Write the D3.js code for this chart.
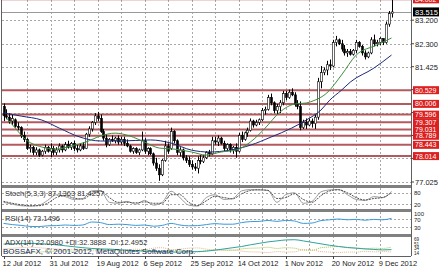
<!DOCTYPE html>
<html>
<head>
<meta charset="utf-8">
<script src="https://cdn.jsdelivr.net/npm/d3@7"></script>
<style>
  body { margin: 0; background: #fff; }
  svg { display: block; }
  text { font-family: "Liberation Sans", Arial, sans-serif; }
</style>
</head>
<body>
<div id="chart"></div>
<script>
// daily candles, 12 Jul 2012 .. 14 Dec 2012 (bar index 0..132)
const openP = [79.9,79.55,79.5,79.35,79.4,79.15,79.1,78.8,78.65,78.3,78.35,78.15,78.25,78.05,78.2,78.35,78.2,78.3,78.15,78.25,
  78.4,78.25,78.45,78.35,78.5,78.3,78.25,78.4,78.3,78.85,79.05,79.3,79.55,79.45,78.95,78.7,78.45,78.65,78.6,78.7,
  78.55,78.65,78.5,78.4,78.2,78.3,78.15,78.25,78.6,78.2,78.3,78.1,77.75,77.55,77.3,77.85,78.4,78.3,78.95,78.6,
  78.15,78.25,77.95,77.85,77.7,77.6,77.55,77.85,77.8,77.95,78.15,78.1,78.6,78.55,78.7,78.5,78.3,78.45,78.25,78.35,
  78.2,78.8,78.65,78.9,79.0,79.35,79.2,79.3,79.4,79.75,79.8,80.25,80.05,79.75,79.9,80.05,80.4,80.25,80.45,80.35,
  80.0,79.9,79.1,79.3,79.2,79.35,79.25,79.5,80.85,81.2,81.3,81.5,81.45,82.35,82.45,82.3,82.1,81.95,82.0,81.9,
  82.05,82.35,82.2,81.95,81.8,81.95,82.45,82.3,82.35,82.5,82.35,83.05,83.45];
const highP = [80.02,79.8,79.65,79.6,79.45,79.3,79.15,78.95,78.7,78.45,78.4,78.35,78.3,78.25,78.45,78.4,78.5,78.4,78.35,78.5,
  78.45,78.55,78.6,78.55,78.6,78.45,78.5,78.55,78.9,79.15,79.35,79.65,79.7,79.6,79.05,78.85,78.7,78.8,78.75,78.8,
  78.75,78.75,78.65,78.45,78.35,78.35,78.3,78.95,78.7,78.35,78.35,78.15,77.95,77.7,77.9,78.6,78.5,79.1,79.0,78.65,
  78.35,78.3,78.05,78.0,77.85,77.75,78.0,78.05,78.05,78.2,78.25,78.75,78.75,78.8,78.75,78.6,78.5,78.5,78.4,78.5,
  78.9,78.95,78.95,79.1,79.45,79.4,79.4,79.45,79.85,79.9,80.35,80.4,80.1,80.0,80.15,80.5,80.5,80.55,80.6,80.45,
  80.15,80.1,79.4,79.45,79.45,79.45,79.6,81.0,81.45,81.4,81.65,81.7,82.45,82.6,82.5,82.45,82.25,82.1,82.1,82.1,
  82.45,82.4,82.25,82.05,82.0,82.55,82.65,82.45,82.55,82.5,83.15,83.55,83.97];
const lowP = [79.35,79.42,79.25,79.2,79.1,79.0,78.7,78.55,78.25,78.15,78.05,78.05,77.98,78.0,78.1,78.15,77.98,78.05,78.05,78.15,
  78.15,78.2,78.3,78.25,78.2,78.15,78.2,78.25,78.28,78.75,78.95,79.2,79.35,78.9,78.6,78.35,78.4,78.55,78.5,78.45,
  78.45,78.4,78.35,78.15,78.1,78.1,78.05,78.2,78.1,78.05,78.05,77.65,77.45,77.07,77.25,77.8,78.1,78.25,78.5,78.05,
  78.0,77.85,77.75,77.6,77.5,77.45,77.35,77.7,77.75,77.9,78.0,78.05,78.45,78.4,78.45,78.2,78.2,78.15,78.1,77.95,
  78.15,78.55,78.6,78.75,78.95,79.1,79.15,79.2,79.35,79.6,79.75,79.95,79.65,79.6,79.65,79.95,80.15,80.2,80.3,79.9,
  79.8,79.0,79.05,79.05,79.15,79.1,79.05,79.4,80.6,81.1,81.1,81.3,81.4,82.2,82.25,82.0,81.85,81.8,81.85,81.85,
  81.95,82.15,81.85,81.7,81.75,81.9,82.2,82.2,82.25,82.25,82.3,82.95,83.3];
const closeP = [79.55,79.5,79.35,79.45,79.15,79.1,78.8,78.65,78.3,78.35,78.15,78.25,78.05,78.2,78.35,78.2,78.3,78.15,78.25,78.4,
  78.25,78.45,78.35,78.5,78.3,78.25,78.4,78.3,78.85,79.05,79.3,79.55,79.45,78.95,78.7,78.45,78.65,78.6,78.7,78.55,
  78.65,78.5,78.4,78.2,78.3,78.15,78.25,78.6,78.2,78.3,78.1,77.75,77.55,77.3,77.85,78.4,78.2,78.95,78.6,78.15,
  78.25,77.95,77.85,77.7,77.6,77.55,77.85,77.8,77.95,78.15,78.1,78.6,78.55,78.7,78.5,78.3,78.45,78.25,78.35,78.2,
  78.8,78.65,78.9,79.0,79.35,79.2,79.3,79.4,79.75,79.8,80.25,80.05,79.75,79.9,80.05,80.4,80.25,80.45,80.35,80.0,
  79.9,79.1,79.3,79.2,79.35,79.25,79.5,80.85,81.2,81.3,81.5,81.45,82.35,82.45,82.3,82.1,81.95,82.0,81.9,82.05,
  82.35,82.2,81.95,81.8,81.95,82.45,82.3,82.35,82.5,82.35,83.05,83.45,83.515];

// date labels (bar index, text)
const dateBars = [0, 16, 32, 48, 64, 80, 96, 112, 128];
const dateLabels = ["12 Jul 2012", "31 Jul 2012", "19 Aug 2012", "6 Sep 2012", "25 Sep 2012",
  "14 Oct 2012", "1 Nov 2012", "20 Nov 2012", "9 Dec 2012"];

// moving averages (bar index, price)
const maFastBars = [1, 4, 7, 13, 18, 23, 28, 33, 38, 43, 48, 53, 58, 64, 69, 74, 79, 84, 89, 94, 99, 103, 106, 110, 115, 120, 127, 132];
const maFast = [79.47, 79.08, 78.7, 78.36, 78.28, 78.4, 78.55, 78.78, 78.89, 78.78, 78.55, 78.32, 78.28, 78.17, 78.05, 78.17, 78.24,
  78.55, 79.08, 79.69, 80.0, 80.04, 80.15, 80.42, 81.11, 81.87, 82.25, 82.52];
const maSlowBars = [0, 6, 13, 19, 26, 33, 40, 50, 57, 64, 70, 77, 84, 91, 98, 103, 108, 111, 115, 118, 126, 132];
const maSlow = [79.66, 79.54, 79.39, 79.08, 78.74, 78.59, 78.59, 78.63, 78.51, 78.24, 78.17, 78.24, 78.43, 78.74, 79.08, 79.39,
  79.77, 80.15, 80.53, 80.84, 81.37, 81.87];

// horizontal levels (red) and price axis ticks
const levels = [83.995, 80.529, 80.006, 79.596, 79.307, 79.031, 78.789, 78.443, 78.014];
const levelLabels = ["84.002", "80.529", "80.006", "79.596", "79.307", "79.031", "78.789", "78.443", "78.014"];
const priceTicks = [83.2, 82.3, 81.425, 80.55, 79.675, 78.8, 77.925, 77.025];
const shownTicks = [83.2, 82.3, 81.425, 77.025]; // the others sit under the red labels
const lastPrice = 83.515;

// oscillators, sampled every 3 bars
const oscBars = [0,3,6,9,12,15,18,21,24,27,30,33,36,39,42,45,48,51,54,57,60,63,66,69,72,75,78,81,84,87,90,93,96,99,102,105,108,111,114,117,120,123,126,129,132];
const stochK = [30,20,12,10,14,40,70,60,45,50,90,92,30,25,35,20,40,15,30,88,55,15,10,55,70,45,50,90,97,95,92,30,70,80,25,35,85,95,97,70,45,40,60,55,87.14];
const stochD = [35,25,17,12,12,25,55,65,52,47,75,90,55,30,30,27,32,25,25,70,70,30,13,38,62,55,48,75,92,96,93,50,55,75,45,30,65,90,96,80,55,42,50,55,81.43];
const rsi = [48,42,38,33,32,36,37,40,38,40,55,52,42,44,42,38,40,34,38,48,40,36,37,42,47,44,44,52,57,58,63,58,63,60,48,50,62,66,70,66,68,64,68,66,73.15];
const adx = [45,46,47,48,47,45,42,38,34,30,27,25,24,22,20,18,16,15,13,12,12,13,14,16,20,25,30,35,42,48,54,58,62,63,58,52,46,40,35,31,28,25,23,21,22.1];
const plusDI = [15,13,12,11,12,14,16,17,16,18,25,24,19,18,17,16,18,14,13,20,17,14,13,17,22,20,19,25,28,29,32,27,30,28,20,19,30,33,35,30,29,26,28,27,32.39];
const minusDI = [25,28,30,32,30,27,25,23,24,22,17,18,24,23,22,24,22,28,30,22,24,28,29,24,19,20,21,16,13,12,10,14,12,13,22,21,14,12,10,12,12,15,13,14,12.5];
const adxScaleLabels = [69, 51, 34, 14];

const W = 439, H = 268;
const plotL = 2, plotR = 411;
const mainTop = 0, mainBot = 185;
const stochTop = 188, stochBot = 209;
const rsiTop = 212, rsiBot = 234;
const adxTop = 237, adxBot = 256;

const svg = d3.select("#chart").append("svg").attr("width", W).attr("height", H);
svg.append("rect").attr("width", W).attr("height", H).attr("fill", "#fff");

const x = d3.scaleLinear().domain([0, 132]).range([3.5, 391.5]);
const y = d3.scaleLinear().domain([77.025, 83.97]).range([182, 0]);
const yStoch = d3.scaleLinear().domain([0, 100]).range([stochBot - 1, stochTop + 1]);
const yRsi = d3.scaleLinear().domain([0, 100]).range([rsiBot - 1, rsiTop + 1]);
const yAdx = d3.scaleLinear().domain([0, 70]).range([adxBot - 1, adxTop + 1]);

const grid = "#a8a8a8";

// vertical dashed grid every 8 bars, through all panels
const vBars = d3.range(8, 132, 8);
svg.append("g").selectAll("line").data(vBars).join("line")
  .attr("x1", d => Math.round(x(d)) + 0.5).attr("x2", d => Math.round(x(d)) + 0.5)
  .attr("y1", 0).attr("y2", adxBot)
  .attr("stroke", grid).attr("stroke-dasharray", "2,2").attr("stroke-width", 1);

// horizontal dashed price grid
svg.append("g").selectAll("line").data(priceTicks).join("line")
  .attr("x1", plotL).attr("x2", plotR)
  .attr("y1", d => Math.round(y(d)) + 0.5).attr("y2", d => Math.round(y(d)) + 0.5)
  .attr("stroke", grid).attr("stroke-dasharray", "2,2");

// red support / resistance levels
svg.append("g").selectAll("line").data(levels).join("line")
  .attr("x1", plotL).attr("x2", plotR)
  .attr("y1", d => y(d)).attr("y2", d => y(d))
  .attr("stroke", "#b45a5f").attr("stroke-width", 2);

// last price line
svg.append("line").attr("x1", plotL).attr("x2", plotR)
  .attr("y1", Math.round(y(lastPrice)) + 0.5).attr("y2", Math.round(y(lastPrice)) + 0.5)
  .attr("stroke", "#9a9a9a");

// candles
const bars = d3.range(closeP.length);
const cg = svg.append("g");
cg.selectAll("line").data(bars).join("line")
  .attr("x1", i => Math.round(x(i)) + 0.5).attr("x2", i => Math.round(x(i)) + 0.5)
  .attr("y1", i => y(highP[i])).attr("y2", i => y(lowP[i]))
  .attr("stroke", "#000").attr("stroke-width", 1);
cg.selectAll("rect").data(bars).join("rect")
  .attr("x", i => Math.round(x(i)) - 0.5)
  .attr("width", 2)
  .attr("y", i => y(Math.max(openP[i], closeP[i])))
  .attr("height", i => Math.max(1, Math.abs(y(openP[i]) - y(closeP[i]))))
  .attr("fill", i => closeP[i] >= openP[i] ? "#fff" : "#000")
  .attr("stroke", "#000").attr("stroke-width", 0.6);

// moving averages
const maLine = d3.line().curve(d3.curveMonotoneX);
svg.append("path")
  .attr("d", maLine(maSlowBars.map((b, k) => [x(b), y(maSlow[k])])))
  .attr("fill", "none").attr("stroke", "#1c2a7a").attr("stroke-width", 1);
svg.append("path")
  .attr("d", maLine(maFastBars.map((b, k) => [x(b), y(maFast[k])])))
  .attr("fill", "none").attr("stroke", "#3e8e3e").attr("stroke-width", 1);

// sub-panel level lines
const lvl = (scale, vals) => svg.append("g").selectAll("line").data(vals).join("line")
  .attr("x1", plotL).attr("x2", plotR)
  .attr("y1", d => Math.round(scale(d)) + 0.5).attr("y2", d => Math.round(scale(d)) + 0.5)
  .attr("stroke", grid).attr("stroke-dasharray", "2,2");
lvl(yStoch, [80, 20]);
lvl(yRsi, [70, 30]);

// oscillator lines
const oscLine = (scale, vals) => d3.line().curve(d3.curveMonotoneX)(oscBars.map((b, k) => [x(b), scale(vals[k])]));
svg.append("path").attr("d", oscLine(yStoch, stochK)).attr("fill", "none").attr("stroke", "#9c9c9c").attr("stroke-width", 1);
svg.append("path").attr("d", oscLine(yStoch, stochD)).attr("fill", "none").attr("stroke", "#505050")
  .attr("stroke-width", 1).attr("stroke-dasharray", "2,1");
svg.append("path").attr("d", oscLine(yRsi, rsi)).attr("fill", "none").attr("stroke", "#3a9ad9").attr("stroke-width", 1);
svg.append("path").attr("d", oscLine(yAdx, plusDI)).attr("fill", "none").attr("stroke", "#a6c24a")
  .attr("stroke-width", 1).attr("stroke-dasharray", "1,1");
svg.append("path").attr("d", oscLine(yAdx, minusDI)).attr("fill", "none").attr("stroke", "#e2b88a")
  .attr("stroke-width", 1).attr("stroke-dasharray", "1,1");
svg.append("path").attr("d", oscLine(yAdx, adx)).attr("fill", "none").attr("stroke", "#2fa39a").attr("stroke-width", 1);

// panel separators, frame
svg.append("g").selectAll("rect").data([mainBot, stochBot, rsiBot]).join("rect")
  .attr("x", plotL).attr("width", plotR - plotL).attr("y", d => d).attr("height", 3)
  .attr("fill", "#808080");
svg.append("line").attr("x1", 1.5).attr("x2", 1.5).attr("y1", 0).attr("y2", adxBot).attr("stroke", "#606060");
svg.append("line").attr("x1", plotR + 0.5).attr("x2", plotR + 0.5).attr("y1", 0).attr("y2", adxBot).attr("stroke", "#606060");
svg.append("line").attr("x1", plotL).attr("x2", plotR).attr("y1", adxBot + 0.5).attr("y2", adxBot + 0.5).attr("stroke", "#606060");

// right price axis
const ax = svg.append("g").attr("font-size", 7.5).attr("fill", "#222");
ax.selectAll("text").data(shownTicks).join("text")
  .attr("x", plotR + 4).attr("y", d => y(d) + 3).text(d => d.toFixed(3));
ax.selectAll("line").data(priceTicks).join("line")
  .attr("x1", plotR).attr("x2", plotR + 3).attr("y1", d => y(d)).attr("y2", d => y(d)).attr("stroke", "#444");

// red level labels
const lg = svg.append("g");
lg.selectAll("rect").data(levels).join("rect")
  .attr("x", plotR + 2).attr("width", 26).attr("y", d => y(d) - 4).attr("height", 8)
  .attr("fill", "#dc2020");
lg.selectAll("text").data(levels).join("text")
  .attr("x", plotR + 4).attr("y", d => y(d) + 2.6).attr("font-size", 7).attr("fill", "#fff")
  .text((d, k) => levelLabels[k]);

// last price label
svg.append("rect").attr("x", plotR + 2).attr("width", 26).attr("y", y(lastPrice) - 4.5).attr("height", 9).attr("fill", "#000");
svg.append("text").attr("x", plotR + 4).attr("y", y(lastPrice) + 3).attr("font-size", 7.5).attr("fill", "#fff")
  .text(lastPrice.toFixed(3));

// sub-panel scale labels
const sub = svg.append("g").attr("font-size", 6).attr("fill", "#222");
[[yStoch, 80], [yStoch, 20], [yRsi, 100], [yRsi, 70], [yRsi, 30]]
  .forEach(([s, v]) => sub.append("text").attr("x", plotR + 3).attr("y", s(v) + 2.5).text(v));
// ADX scale labels are packed tightly, as in the original
const adxLab = d3.scaleLinear().domain([0, adxScaleLabels.length - 1]).range([241, 255]);
sub.selectAll(".adxl").data(adxScaleLabels).join("text").attr("class", "adxl")
  .attr("x", plotR + 3).attr("y", (d, k) => adxLab(k)).attr("font-size", 4.6).text(d => d);

// indicator captions
const cap = svg.append("g").attr("font-size", 7.5).attr("fill", "#333");
cap.append("text").attr("x", 5).attr("y", 196).text("Stoch(5,3,3) 87.1363 81.4257");
cap.append("text").attr("x", 5).attr("y", 221).text("RSI(14) 73.1496");
cap.append("text").attr("x", 5).attr("y", 245).text("ADX(14) 22.0980 +DI:32.3888 -DI:12.4952");
svg.append("text").attr("x", 3).attr("y", 254).attr("font-size", 8).attr("fill", "#1a2a5a")
  .text("BOSSAFX, \u00a9 2001-2012, MetaQuotes Software Corp.");

// date axis
const dg = svg.append("g").attr("font-size", 7.5).attr("fill", "#222");
dg.selectAll("text").data(dateBars).join("text")
  .attr("x", d => x(d) - 1).attr("y", 266).text((d, k) => dateLabels[k]);
dg.selectAll("line").data(dateBars).join("line")
  .attr("x1", d => Math.round(x(d)) + 0.5).attr("x2", d => Math.round(x(d)) + 0.5)
  .attr("y1", adxBot).attr("y2", adxBot + 3).attr("stroke", "#444");
</script>
</body>
</html>
